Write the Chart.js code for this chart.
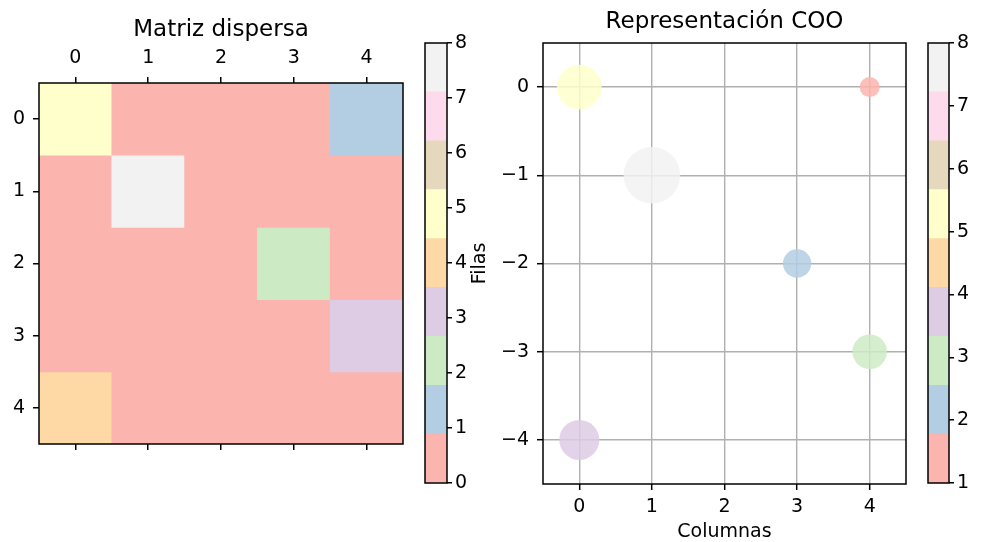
<!DOCTYPE html>
<html>
<head>
<meta charset="utf-8">
<script src="https://cdn.jsdelivr.net/npm/chart.js@4/dist/chart.umd.min.js"></script>
<style>
  html, body { margin: 0; padding: 0; background: #fff; }
  #fig { position: relative; width: 987px; height: 542px; background: #fff; }
  #fig canvas { position: absolute; left: 0; top: 0; }
</style>
</head>
<body>
<div id="fig">
  <canvas id="heat" width="987" height="542"></canvas>
  <canvas id="heatBar" width="987" height="542"></canvas>
  <canvas id="coo" width="987" height="542"></canvas>
  <canvas id="cooBar" width="987" height="542"></canvas>
</div>
<script>
// Dense 5x5 matrix (mostly zeros)
const columnLabels = ['0', '1', '2', '3', '4'];
const rowIndex = [0, 1, 2, 3, 4];
const matrixRows = [
  [5, 0, 0, 0, 1],
  [0, 8, 0, 0, 0],
  [0, 0, 0, 2, 0],
  [0, 0, 0, 0, 3],
  [4, 0, 0, 0, 0]
];

// COO triplets of the non-zero entries
const cooRow = [0, 0, 1, 2, 3, 4];
const cooCol = [0, 4, 1, 3, 4, 0];
const cooData = [5, 1, 8, 2, 3, 4];

// Tick labels
const heatBarTicks = [0, 1, 2, 3, 4, 5, 6, 7, 8];
const cooBarTicks = [1, 2, 3, 4, 5, 6, 7, 8];
const axisTicks = [0, 1, 2, 3, 4];
const cooRowTicks = [0, -1, -2, -3, -4];

// Pastel1 colormap
const pastel1 = ['#fbb4ae', '#b3cde3', '#ccebc5', '#decbe4', '#fed9a6',
                 '#ffffcc', '#e5d8bd', '#fddaec', '#f2f2f2'];

function colorFor(v, lo, hi) {
  const i = Math.min(pastel1.length - 1, Math.floor((v - lo) / (hi - lo) * pastel1.length));
  return pastel1[Math.max(0, i)];
}
function withAlpha(hex, a) {
  const n = parseInt(hex.slice(1), 16);
  return `rgba(${(n >> 16) & 255},${(n >> 8) & 255},${n & 255},${a})`;
}
const minus = v => (v < 0 ? '\u2212' + Math.abs(v) : String(v));

Chart.defaults.font.family = "'DejaVu Sans', sans-serif";
Chart.defaults.font.size = 19;
Chart.defaults.color = '#000';
Chart.defaults.animation = false;
Chart.defaults.events = [];
Chart.defaults.plugins.legend.display = false;
Chart.defaults.plugins.tooltip.enabled = false;

// Black frame around the plotting area
const framePlugin = {
  id: 'frame',
  afterDraw(chart) {
    const { ctx, chartArea: a } = chart;
    ctx.save();
    ctx.strokeStyle = '#000';
    ctx.lineWidth = 1.5;
    ctx.strokeRect(a.left, a.top, a.right - a.left, a.bottom - a.top);
    ctx.restore();
  }
};

const tickGrid = (len) => ({
  drawOnChartArea: false, drawTicks: true, tickLength: len,
  color: '#000', lineWidth: 1.5, offset: false
});
const fixW = w => s => { s.width = w; };
const fixH = h => s => { s.height = h; };
const setTicks = vals => s => { s.ticks = vals.map(v => ({ value: v })); };

const heatLo = Math.min(...matrixRows.flat());
const heatHi = Math.max(...matrixRows.flat());
const cooLo = Math.min(...cooData);
const cooHi = Math.max(...cooData);

// ---- Left: dense matrix drawn as unit cells ----
new Chart(document.getElementById('heat'), {
  type: 'bar',
  data: {
    labels: columnLabels,
    datasets: rowIndex.map(r => ({
      data: matrixRows[r].map(() => [r - 0.5, r + 0.5]),
      backgroundColor: matrixRows[r].map(v => colorFor(v, heatLo, heatHi)),
      borderWidth: 0,
      grouped: false,
      barPercentage: 1,
      categoryPercentage: 1
    }))
  },
  options: {
    responsive: false,
    devicePixelRatio: 1,
    layout: { padding: { left: 0, top: 0, right: 584, bottom: 88 } },
    plugins: {
      title: {
        display: true, text: 'Matriz dispersa', fullSize: false,
        font: { size: 23, weight: 'normal', lineHeight: 1 },
        padding: { top: 19, bottom: 0 }, color: '#000'
      }
    },
    scales: {
      x: {
        type: 'category', position: 'bottom', offset: true,
        grid: tickGrid(6), border: { display: false },
        ticks: { display: false },
        afterFit: fixH(10)
      },
      x2: {
        type: 'category', position: 'top', offset: true,
        grid: tickGrid(6), border: { display: false },
        ticks: { padding: 8, maxRotation: 0 },
        afterFit: fixH(41)
      },
      y: {
        type: 'linear', reverse: true, min: -0.5, max: 4.5,
        grid: tickGrid(6), border: { display: false },
        ticks: { padding: 8 },
        afterBuildTicks: setTicks(axisTicks),
        afterFit: fixW(39)
      }
    }
  },
  plugins: [framePlugin]
});

// Colorbar built from stacked floating segments
function colorbar(id, lo, hi, ticks, pad) {
  const n = pastel1.length, step = (hi - lo) / n;
  new Chart(document.getElementById(id), {
    type: 'bar',
    data: {
      labels: [''],
      datasets: pastel1.map((c, i) => ({
        data: [[lo + i * step, lo + (i + 1) * step]],
        backgroundColor: c, borderWidth: 0, grouped: false,
        barPercentage: 1, categoryPercentage: 1
      }))
    },
    options: {
      responsive: false,
      devicePixelRatio: 1,
      layout: { padding: pad },
      scales: {
        x: { display: false },
        y: {
          type: 'linear', position: 'right', min: lo, max: hi,
          grid: tickGrid(5), border: { display: false },
          ticks: { padding: 3 },
          afterBuildTicks: setTicks(ticks),
          afterFit: fixW(30)
        }
      }
    },
    plugins: [framePlugin]
  });
}
colorbar('heatBar', heatLo, heatHi, heatBarTicks, { left: 425, top: 43, right: 987 - 447 - 30, bottom: 542 - 483 });

// ---- Right: COO coordinates as scatter ----
new Chart(document.getElementById('coo'), {
  type: 'scatter',
  data: {
    datasets: [{
      data: cooData.map((v, i) => ({ x: cooCol[i], y: -cooRow[i] })),
      backgroundColor: cooData.map(v => withAlpha(colorFor(v, cooLo, cooHi), 0.85)),
      borderWidth: 0,
      pointRadius: ctx => 10 * Math.sqrt(cooData[ctx.dataIndex])
    }]
  },
  options: {
    responsive: false,
    devicePixelRatio: 1,
    layout: { padding: { left: 464, top: 0, right: 81, bottom: 0 } },
    plugins: {
      title: {
        display: true, text: 'Representación COO', fullSize: false,
        font: { size: 23, weight: 'normal', lineHeight: 1 },
        padding: { top: 11, bottom: 9 }, color: '#000'
      }
    },
    scales: {
      x: {
        type: 'linear', min: -0.5, max: 4.5, z: 1,
        grid: { color: '#b0b0b0', lineWidth: 1.4, tickColor: '#000', tickWidth: 1.5, tickLength: 6 },
        border: { display: false },
        ticks: { padding: 6, callback: minus },
        afterBuildTicks: setTicks(axisTicks),
        title: { display: true, text: 'Columnas', font: { size: 19, lineHeight: 1 }, padding: { top: 0, bottom: 0 } },
        afterFit: fixH(58)
      },
      y: {
        type: 'linear', min: -4.5, max: 0.5, z: 1,
        grid: { color: '#b0b0b0', lineWidth: 1.4, tickColor: '#000', tickWidth: 1.5, tickLength: 6 },
        border: { display: false },
        ticks: { padding: 8, callback: minus },
        afterBuildTicks: setTicks(cooRowTicks),
        title: { display: true, text: 'Filas', font: { size: 19, lineHeight: 1 }, padding: { top: 7, bottom: 0 } },
        afterFit: fixW(79)
      }
    }
  },
  plugins: [framePlugin]
});

colorbar('cooBar', cooLo, cooHi, cooBarTicks, { left: 928, top: 43, right: 987 - 949 - 30, bottom: 542 - 483 });
</script>
</body>
</html>
